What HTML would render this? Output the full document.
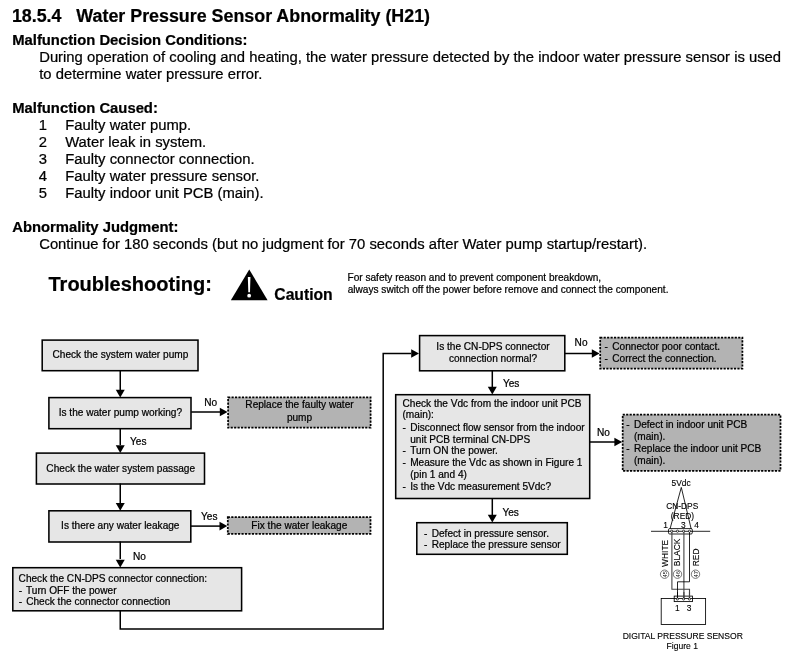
<!DOCTYPE html>
<html lang="en">
<head>
<meta charset="utf-8">
<title>18.5.4 Water Pressure Sensor Abnormality (H21)</title>
<style>
html,body{margin:0;padding:0;background:#fff;}
body{width:800px;height:667px;overflow:hidden;}
#page{position:absolute;left:0;top:0;width:800px;height:667px;overflow:hidden;background:#fff;font-family:"Liberation Sans", Arial, Helvetica, sans-serif;color:#000;filter:grayscale(1);}
.t{position:absolute;white-space:pre;margin:0;padding:0;-webkit-text-stroke:0.22px #000;}
svg{position:absolute;left:0;top:0;}
svg text{font-family:"Liberation Sans", Arial, Helvetica, sans-serif;fill:#000;white-space:pre;stroke:#000;stroke-width:0.22px;}
.b{fill:#e6e6e6;stroke:#000;stroke-width:1.55;}
.d{fill:#b3b3b3;stroke:#000;stroke-width:1.75;stroke-dasharray:2.15 1.3;}
.l{fill:none;stroke:#000;stroke-width:1.5;}
.a{fill:#000;stroke:none;}
.f{font-size:10.1px;}
.w{fill:none;stroke:#000;stroke-width:0.85;}
.p{fill:#fff;stroke:#000;stroke-width:0.7;}
.w2{fill:none;stroke:#444;stroke-width:1.1;}
svg text.s1{font-size:8.4px;fill:#000;stroke-width:0.12px;}
svg text.s2{font-size:8.55px;fill:#000;stroke-width:0.12px;}
svg text.s3{font-size:5.8px;fill:#000;stroke:none;}
.c{fill:#fff;stroke:#222;stroke-width:0.6;}
</style>
</head>
<body>
<div id="page">

<div class="t" style="left:11.90px;top:6px;font-size:17.85px;line-height:21px;font-weight:bold;">18.5.4   Water Pressure Sensor Abnormality (H21)</div>
<div class="t" style="left:12.20px;top:31px;font-size:14.82px;line-height:18px;font-weight:bold;">Malfunction Decision Conditions:</div>
<div class="t" style="left:39.20px;top:48px;font-size:14.82px;line-height:18px;">During operation of cooling and heating, the water pressure detected by the indoor water pressure sensor is used</div>
<div class="t" style="left:39.20px;top:65px;font-size:14.82px;line-height:18px;">to determine water pressure error.</div>
<div class="t" style="left:12.20px;top:99px;font-size:14.82px;line-height:18px;font-weight:bold;">Malfunction Caused:</div>
<div class="t" style="left:38.70px;top:116px;font-size:14.82px;line-height:18px;">1</div>
<div class="t" style="left:65.20px;top:116px;font-size:14.82px;line-height:18px;">Faulty water pump.</div>
<div class="t" style="left:38.70px;top:133px;font-size:14.82px;line-height:18px;">2</div>
<div class="t" style="left:65.20px;top:133px;font-size:14.82px;line-height:18px;">Water leak in system.</div>
<div class="t" style="left:38.70px;top:150px;font-size:14.82px;line-height:18px;">3</div>
<div class="t" style="left:65.20px;top:150px;font-size:14.82px;line-height:18px;">Faulty connector connection.</div>
<div class="t" style="left:38.70px;top:167px;font-size:14.82px;line-height:18px;">4</div>
<div class="t" style="left:65.20px;top:167px;font-size:14.82px;line-height:18px;">Faulty water pressure sensor.</div>
<div class="t" style="left:38.70px;top:184px;font-size:14.82px;line-height:18px;">5</div>
<div class="t" style="left:65.20px;top:184px;font-size:14.82px;line-height:18px;">Faulty indoor unit PCB (main).</div>
<div class="t" style="left:12.20px;top:218px;font-size:14.82px;line-height:18px;font-weight:bold;">Abnormality Judgment:</div>
<div class="t" style="left:39.20px;top:235px;font-size:14.82px;line-height:18px;">Continue for 180 seconds (but no judgment for 70 seconds after Water pump startup/restart).</div>
<div class="t" style="left:48.50px;top:272px;font-size:20px;line-height:24px;font-weight:bold;">Troubleshooting:</div>
<div class="t" style="left:274.30px;top:285px;font-size:15.7px;line-height:19px;font-weight:bold;">Caution</div>
<div class="t" style="left:347.50px;top:272px;font-size:10.1px;line-height:12px;">For safety reason and to prevent component breakdown,</div>
<div class="t" style="left:347.70px;top:284px;font-size:10.1px;line-height:12px;">always switch off the power before remove and connect the component.</div>
<svg width="800" height="667" viewBox="0 0 800 667">
<polygon class="a" points="249.25,269.5 267.6,300.25 230.85,300.25"/>
<polygon points="247.85,276.9 250.45,276.9 250.0,292.3 248.3,292.3" fill="#fff"/>
<circle cx="249.15" cy="295.65" r="1.9" fill="#fff"/>
<rect class="b" x="42.2" y="340.1" width="155.80" height="30.60"/>
<rect class="b" x="48.9" y="397.6" width="142.10" height="31.10"/>
<rect class="b" x="36.4" y="453.1" width="168.10" height="30.90"/>
<rect class="b" x="48.9" y="510.8" width="141.90" height="31.20"/>
<rect class="b" x="12.8" y="567.7" width="228.80" height="43.10"/>
<rect class="d" x="228.1" y="397.4" width="142.50" height="30.20"/>
<rect class="d" x="227.8" y="517.1" width="142.70" height="16.80"/>
<polyline class="l" points="120.25,370.2 120.25,390"/>
<polygon class="a" points="115.75,389.7 124.75,389.7 120.25,397.5"/>
<polyline class="l" points="120.25,428.2 120.25,445"/>
<polygon class="a" points="115.75,445.2 124.75,445.2 120.25,453.0"/>
<polyline class="l" points="120.25,483.5 120.25,503"/>
<polygon class="a" points="115.75,502.9 124.75,502.9 120.25,510.7"/>
<polyline class="l" points="120.25,541.5 120.25,559"/>
<polygon class="a" points="115.75,559.8000000000001 124.75,559.8000000000001 120.25,567.6"/>
<polyline class="l" points="191.2,412 220,412"/>
<polygon class="a" points="219.79999999999998,407.7 219.79999999999998,416.3 227.6,412"/>
<polyline class="l" points="191.0,526.1 220,526.1"/>
<polygon class="a" points="219.5,521.8000000000001 219.5,530.4 227.3,526.1"/>
<polyline class="l" points="120.25,610.3 120.25,629.1 383.2,629.1 383.2,353.5 411,353.5"/>
<polygon class="a" points="411.2,349.2 411.2,357.8 419.0,353.5"/>
<text class="f" x="120.4" y="358" text-anchor="middle">Check the system water pump</text>
<text class="f" x="120.4" y="416" text-anchor="middle">Is the water pump working?</text>
<text class="f" x="120.7" y="472" text-anchor="middle">Check the water system passage</text>
<text class="f" x="120.3" y="529" text-anchor="middle">Is there any water leakage</text>
<text class="f" x="18.6" y="582">Check the CN-DPS connector connection:</text>
<text class="f" x="18.7" y="594">-</text>
<text class="f" x="26.0" y="594">Turn OFF the power</text>
<text class="f" x="18.7" y="605">-</text>
<text class="f" x="26.2" y="605">Check the connector connection</text>
<text class="f" x="299.5" y="408" text-anchor="middle">Replace the faulty water</text>
<text class="f" x="299.5" y="421" text-anchor="middle">pump</text>
<text class="f" x="299.3" y="529" text-anchor="middle">Fix the water leakage</text>
<text class="f" x="204.2" y="406">No</text>
<text class="f" x="130" y="445">Yes</text>
<text class="f" x="201" y="520">Yes</text>
<text class="f" x="133" y="560">No</text>
<rect class="b" x="419.6" y="335.6" width="145.20" height="35.20"/>
<rect class="b" x="395.7" y="394.7" width="194.00" height="103.80"/>
<rect class="b" x="416.8" y="522.7" width="150.50" height="31.60"/>
<rect class="d" x="600.2" y="337.6" width="142.20" height="30.90"/>
<rect class="d" x="622.7" y="414.7" width="157.80" height="56.10"/>
<polyline class="l" points="492.3,370.3 492.3,387"/>
<polygon class="a" points="487.8,386.8 496.8,386.8 492.3,394.6"/>
<polyline class="l" points="492.3,498.0 492.3,515"/>
<polygon class="a" points="487.8,514.8000000000001 496.8,514.8000000000001 492.3,522.6"/>
<polyline class="l" points="565.0,353.5 592,353.5"/>
<polygon class="a" points="591.8000000000001,349.2 591.8000000000001,357.8 599.6,353.5"/>
<polyline class="l" points="589.9,442 615,442"/>
<polygon class="a" points="614.4000000000001,437.7 614.4000000000001,446.3 622.2,442"/>
<text class="f" x="493.0" y="350" text-anchor="middle">Is the CN-DPS connector</text>
<text class="f" x="493.0" y="362" text-anchor="middle">connection normal?</text>
<text class="f" x="574.6" y="346">No</text>
<text class="f" x="502.9" y="387">Yes</text>
<text class="f" x="402.5" y="407">Check the Vdc from the indoor unit PCB</text>
<text class="f" x="402.5" y="418">(main):</text>
<text class="f" x="402.5" y="431">-</text>
<text class="f" x="410.2" y="431">Disconnect flow sensor from the indoor</text>
<text class="f" x="410.2" y="443">unit PCB terminal CN-DPS</text>
<text class="f" x="402.5" y="454">-</text>
<text class="f" x="410.2" y="454">Turn ON the power.</text>
<text class="f" x="402.5" y="466">-</text>
<text class="f" x="410.2" y="466">Measure the Vdc as shown in Figure 1</text>
<text class="f" x="410.2" y="478">(pin 1 and 4)</text>
<text class="f" x="402.5" y="490">-</text>
<text class="f" x="410.2" y="490">Is the Vdc measurement 5Vdc?</text>
<text class="f" x="597" y="436">No</text>
<text class="f" x="502.4" y="516">Yes</text>
<text class="f" x="424.0" y="537">-</text>
<text class="f" x="431.7" y="537">Defect in pressure sensor.</text>
<text class="f" x="424.0" y="548">-</text>
<text class="f" x="431.7" y="548">Replace the pressure sensor</text>
<text class="f" x="604.6" y="350">-</text>
<text class="f" x="612.3000000000001" y="350">Connector poor contact.</text>
<text class="f" x="604.6" y="362">-</text>
<text class="f" x="612.3000000000001" y="362">Correct the connection.</text>
<text class="f" x="626.2" y="428">-</text>
<text class="f" x="633.9000000000001" y="428">Defect in indoor unit PCB</text>
<text class="f" x="633.9000000000001" y="440">(main).</text>
<text class="f" x="626.2" y="452">-</text>
<text class="f" x="633.9000000000001" y="452">Replace the indoor unit PCB</text>
<text class="f" x="633.9000000000001" y="464">(main).</text>
<g class="sd">
<polyline class="w" points="670.0,529 681.3,487.4 691.2,529"/>
<line class="w" x1="651" y1="531.3" x2="710.2" y2="531.3"/>
<rect class="w" x="668.5" y="528.6" width="23.8" height="5.4" rx="1.2" fill="#fff"/>
<polyline class="w2" points="671.9,531.3 671.9,589.3 689.5,589.3 689.5,599"/>
<polyline class="w2" points="683.9,531.3 683.9,599"/>
<polyline class="w" points="689.5,531.3 689.5,581.8 677.5,581.8 677.5,599"/>
<rect class="w" x="661.2" y="598.5" width="44.4" height="26" />
<rect class="w" x="674.2" y="596.1" width="18.3" height="5.5" fill="#fff"/>
<line class="w" x1="677.5" y1="592" x2="677.5" y2="599"/>
<line class="w2" x1="683.9" y1="592" x2="683.9" y2="599"/>
<line class="w2" x1="689.5" y1="592" x2="689.5" y2="599"/>
<circle class="p" cx="671.7" cy="531.2" r="1.1"/>
<circle class="p" cx="677.5" cy="531.2" r="1.1"/>
<circle class="p" cx="683.6" cy="531.2" r="1.1"/>
<circle class="p" cx="689.5" cy="531.2" r="1.1"/>
<circle class="p" cx="677.4" cy="599" r="1.1"/>
<circle class="p" cx="683.6" cy="599" r="1.1"/>
<circle class="p" cx="689.4" cy="599" r="1.1"/>
<circle class="c" cx="664.6" cy="574.2" r="4.2"/>
<text class="s3" transform="translate(666.7,574.2) rotate(-90)" text-anchor="middle">45</text>
<circle class="c" cx="677.5" cy="574.2" r="4.2"/>
<text class="s3" transform="translate(679.6,574.2) rotate(-90)" text-anchor="middle">46</text>
<circle class="c" cx="695.5" cy="574.2" r="4.2"/>
<text class="s3" transform="translate(697.6,574.2) rotate(-90)" text-anchor="middle">47</text>
<text class="s1" x="671.5" y="486">5Vdc</text>
<text class="s1" x="666.2" y="509">CN-DPS</text>
<text class="s1" x="670.8" y="519">(RED)</text>
<text class="s1" x="663.2" y="528">1</text>
<text class="s1" x="681.0" y="528">3</text>
<text class="s1" x="694.3" y="528">4</text>
<text class="s1" transform="translate(667.8,566.9) rotate(-90)">WHITE</text>
<text class="s1" transform="translate(680.4,566.2) rotate(-90)">BLACK</text>
<text class="s1" transform="translate(699.2,566.2) rotate(-90)">RED</text>
<text class="s1" x="674.9" y="611">1</text>
<text class="s1" x="686.7" y="611">3</text>
<text class="s2" x="682.75" y="639" text-anchor="middle">DIGITAL PRESSURE SENSOR</text>
<text class="s2" x="682.3" y="649" text-anchor="middle">Figure 1</text>
</g>
</svg>
</div>
</body>
</html>
